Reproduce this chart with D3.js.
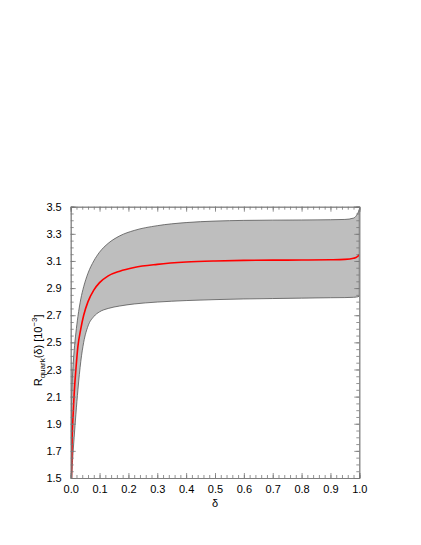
<!DOCTYPE html>
<html><head><meta charset="utf-8">
<script src="https://cdn.jsdelivr.net/npm/d3@7"></script>
<style>body{margin:0;background:#fff}svg{display:block}text{font-family:"Liberation Sans",Arial,sans-serif;fill:#000}</style>
</head><body>
<script>
const delta = [0.001,0.003,0.005,0.008,0.012,0.018,0.025,0.035,0.045,0.06,0.08,0.1,0.13,0.17,0.22,0.3,0.4,0.5,0.6,0.7,0.8,0.9,0.95,0.98,0.99,0.995,1.0];
const central = [1.25,1.6,1.8,1.95,2.12,2.3,2.47,2.6,2.7,2.8,2.885,2.94,2.99,3.025,3.052,3.075,3.092,3.100,3.104,3.106,3.107,3.109,3.112,3.12,3.127,3.135,3.148];
const upper = [1.75,2.08,2.2,2.32,2.44,2.57,2.69,2.82,2.91,3.01,3.10,3.165,3.23,3.285,3.325,3.36,3.383,3.394,3.399,3.401,3.402,3.404,3.406,3.416,3.435,3.452,3.48];
const lower = [1.0,1.4,1.56,1.68,1.8,1.97,2.15,2.36,2.5,2.62,2.69,2.725,2.75,2.768,2.783,2.797,2.808,2.815,2.82,2.823,2.826,2.829,2.83,2.832,2.834,2.836,2.84];
const xTicks = [0,0.1,0.2,0.3,0.4,0.5,0.6,0.7,0.8,0.9,1.0];
const yTicks = [1.5,1.7,1.9,2.1,2.3,2.5,2.7,2.9,3.1,3.3,3.5];

(function(){
const W=421,H=545, L=70.7, R=359.3, T=206.7, B=478;
const svg=d3.select("body").append("svg").attr("width",W).attr("height",H);
const x=d3.scaleLinear().domain([0,1]).range([L,R]);
const y=d3.scaleLinear().domain([1.5,3.5]).range([B,T]);

svg.append("defs").append("clipPath").attr("id","clip")
  .append("rect").attr("x",L).attr("y",T).attr("width",R-L).attr("height",B-T);

const pts = delta.map((d,i)=>({d, c:central[i], u:upper[i], l:lower[i]}));
const g=svg.append("g").attr("clip-path","url(#clip)");
const area=d3.area().x(p=>x(p.d)).y0(p=>y(p.l)).y1(p=>y(p.u)).curve(d3.curveMonotoneX);
g.append("path").datum(pts).attr("d",area).attr("fill","#bebebe").attr("stroke","none");
const lineU=d3.line().x(p=>x(p.d)).y(p=>y(p.u)).curve(d3.curveMonotoneX);
const lineL=d3.line().x(p=>x(p.d)).y(p=>y(p.l)).curve(d3.curveMonotoneX);
const lineC=d3.line().x(p=>x(p.d)).y(p=>y(p.c)).curve(d3.curveMonotoneX);
g.append("path").datum(pts).attr("d",lineU).attr("fill","none").attr("stroke","#555").attr("stroke-width",0.8);
g.append("path").datum(pts).attr("d",lineL).attr("fill","none").attr("stroke","#555").attr("stroke-width",0.8);
const last=pts[pts.length-1];
g.append("line").attr("x1",x(last.d)).attr("x2",x(last.d)).attr("y1",y(last.l)).attr("y2",y(last.u)).attr("stroke","#555").attr("stroke-width",0.8);
g.append("path").datum(pts).attr("d",lineC).attr("fill","none").attr("stroke","#ff0000").attr("stroke-width",1.6);

const xMinor=d3.range(0,1.0001,0.02), yMinor=d3.range(1.5,3.5001,0.05);
const axB=d3.axisBottom(x).tickValues(xMinor).tickSize(-3).tickFormat("");
const axT=d3.axisTop(x).tickValues(xMinor).tickSize(-3).tickFormat("");
const axL=d3.axisLeft(y).tickValues(yMinor).tickSize(-3).tickFormat("");
const axR=d3.axisRight(y).tickValues(yMinor).tickSize(-3).tickFormat("");
const axBM=d3.axisBottom(x).tickValues(xTicks).tickSize(-5).tickPadding(7).tickFormat(d3.format(".1f"));
const axTM=d3.axisTop(x).tickValues(xTicks).tickSize(-5).tickFormat("");
const axLM=d3.axisLeft(y).tickValues(yTicks).tickSize(-5).tickPadding(9).tickFormat(d3.format(".1f"));
const axRM=d3.axisRight(y).tickValues(yTicks).tickSize(-5).tickFormat("");
function place(ax,tr){const a=svg.append("g").attr("transform",tr).call(ax);
  a.selectAll("path.domain").attr("stroke","#777").attr("stroke-width",0.8);
  a.selectAll(".tick line").attr("stroke","#777").attr("stroke-width",0.8);
  a.selectAll("text").attr("font-size",11).attr("fill","#000").style("font-family","'Liberation Sans',Arial,sans-serif");
  return a;}
place(axB,`translate(0,${B})`);place(axT,`translate(0,${T})`);
place(axL,`translate(${L},0)`);place(axR,`translate(${R},0)`);
place(axBM,`translate(0,${B})`);place(axTM,`translate(0,${T})`);
place(axLM,`translate(${L},0)`);place(axRM,`translate(${R},0)`);

svg.append("text").attr("x",(L+R)/2).attr("y",507).attr("text-anchor","middle").attr("font-size",11).text("δ");

const yl=svg.append("text").attr("transform",`translate(42,${(T+B)/2+8}) rotate(-90)`).attr("text-anchor","middle").attr("font-size",11);
yl.append("tspan").text("R");
yl.append("tspan").attr("font-size",8).attr("dy",3).text("quark");
yl.append("tspan").attr("dy",-3).text("(δ) [10");
yl.append("tspan").attr("font-size",8).attr("dy",-5).text("−3");
yl.append("tspan").attr("dy",5).text("]");
})();
</script>
</body></html>
